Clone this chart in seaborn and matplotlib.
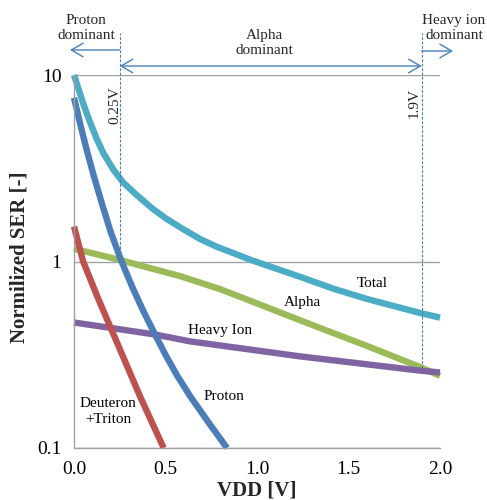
import numpy as np
import pandas as pd
import matplotlib
matplotlib.use("Agg")
import matplotlib.pyplot as plt
import matplotlib.transforms as mtransforms
import seaborn as sns

# ---------------- data ----------------
total_v = [0.0, 0.051, 0.087, 0.124, 0.16, 0.215, 0.269, 0.343, 0.432, 0.507, 0.597,
           0.689, 0.78, 0.87, 0.962, 1.089, 1.235, 1.415, 1.6, 1.89, 2.0]
total_ser = [10.0, 7.0, 5.6, 4.55, 3.82, 3.11, 2.65, 2.27, 1.91, 1.69, 1.49,
             1.32, 1.20, 1.11, 1.023, 0.927, 0.828, 0.716, 0.63, 0.53, 0.50]

proton_v = [0.0, 0.033, 0.069, 0.105, 0.151, 0.2, 0.26, 0.32, 0.377, 0.443,
            0.5, 0.563, 0.634, 0.74, 0.836]
proton_ser = [7.55, 5.5, 3.98, 2.95, 2.07, 1.445, 1.0, 0.724, 0.547, 0.406,
              0.316, 0.245, 0.19, 0.135, 0.1]

dt_v = [0.0, 0.05, 0.13, 0.197, 0.28, 0.36, 0.49]
dt_ser = [1.54, 1.0, 0.64, 0.449, 0.29, 0.19, 0.1]

alpha_v = [0.0, 0.25, 0.4, 0.58, 0.8, 1.0, 1.235, 1.415, 1.6, 1.89, 2.0]
alpha_ser = [1.17, 1.02, 0.93, 0.835, 0.71, 0.596, 0.484, 0.414, 0.353, 0.272, 0.244]

heavy_v = [0.0, 0.443, 0.634, 1.235, 1.89, 2.0]
heavy_ser = [0.471, 0.406, 0.373, 0.31, 0.26, 0.254]

x_ticks = [0.0, 0.5, 1.0, 1.5, 2.0]
x_ticklabels = ["0.0", "0.5", "1.0", "1.5", "2.0"]
y_ticks = [0.1, 1, 10]
y_ticklabels = ["0.1", "1", "10"]

thresholds = [0.25, 1.9]
threshold_labels = ["0.25V", "1.9V"]
threshold_bottom = [1.0, 0.27]

series = [
    ("Total", total_v, total_ser, "#4BACC6"),
    ("Alpha", alpha_v, alpha_ser, "#9BBB59"),
    ("Heavy Ion", heavy_v, heavy_ser, "#8064A2"),
    ("Deuteron+Triton", dt_v, dt_ser, "#C0504D"),
    ("Proton", proton_v, proton_ser, "#4A7EBB"),
]

# ---------------- style ----------------
sns.set_style("white")
plt.rcParams["font.family"] = ["Liberation Serif", "DejaVu Serif"]

W, H = 487, 500
fig = plt.figure(figsize=(W / 100, H / 100), dpi=100)
ax = fig.add_axes([74 / W, 1 - 448 / H, (440 - 74) / W, (448 - 75) / H])

for name, xv, yv, col in series:
    df = pd.DataFrame({"VDD": xv, "SER": yv})
    sns.lineplot(data=df, x="VDD", y="SER", ax=ax, color=col, lw=4.6,
                 solid_capstyle="butt", solid_joinstyle="round",
                 sort=False, estimator=None)

ax.set_yscale("log")
ax.set_xlim(0, 2.0)
ax.set_ylim(0.1, 10)
for ln in ax.get_lines():
    ln.set_clip_on(False)

ax.set_xticks(x_ticks)
ax.set_xticklabels(x_ticklabels)
ax.set_yticks(y_ticks)
ax.set_yticklabels(y_ticklabels)
ax.yaxis.set_minor_locator(matplotlib.ticker.NullLocator())
ax.tick_params(axis="both", length=0, labelsize=14, colors="black")
ax.tick_params(axis="x", pad=9)
ax.tick_params(axis="y", pad=9)

grey = "#A0A0A0"
for s in ["top", "right"]:
    ax.spines[s].set_visible(False)
for s in ["left", "bottom"]:
    ax.spines[s].set_color(grey)
    ax.spines[s].set_linewidth(1.0)
ax.yaxis.grid(True, which="major", color=grey, lw=1.0)
ax.xaxis.grid(False)
ax.set_axisbelow(True)

ax.set_xlabel("VDD [V]", fontsize=15, fontweight="bold")
ax.set_ylabel("Normilized SER [-]", fontsize=15, fontweight="bold")
ax.xaxis.label.set_verticalalignment("center")
ax.yaxis.label.set_verticalalignment("center")
ax.xaxis.set_label_coords(0.5, -(490 - 448) / 373)
ax.yaxis.set_label_coords((20 - 74) / 366, (448 - 257) / 373)

# ---------------- curve labels ----------------
lab_kw = dict(fontsize=11, ha="center", va="center", color="black")
ax.text(1.63, 0.762, "Total", **lab_kw)
ax.text(1.246, 0.603, "Alpha", **lab_kw)
ax.text(0.798, 0.426, "Heavy Ion", **lab_kw)
ax.text(0.82, 0.189, "Proton", **lab_kw)
ax.text(0.186, 0.157, "Deuteron\n+Triton", linespacing=1.25, **lab_kw)

# ---------------- threshold lines and region annotations ----------------
arrow_col = "#4A7EBB"
trans = mtransforms.blended_transform_factory(ax.transData, fig.transFigure)
top_f = 1 - 33 / H
for xv, lab, yb in zip(thresholds, threshold_labels, threshold_bottom):
    ax.plot([xv, xv], [yb, 10], color=arrow_col, lw=0.8, ls=(0, (2.5, 1.5)),
            clip_on=False)
    ax.plot([xv, xv], [1 - 75 / H, top_f], color=arrow_col, lw=0.8,
            ls=(0, (2.5, 1.5)), transform=trans, clip_on=False)

ax.text(0.224, 6.86, threshold_labels[0], rotation=90, fontsize=11,
        ha="center", va="center")
ax.text(1.858, 7.12, threshold_labels[1], rotation=90, fontsize=11,
        ha="center", va="center")

astyle = dict(arrowstyle="->,head_length=0.6,head_width=0.35", color=arrow_col,
              lw=1.0, shrinkA=0, shrinkB=0, mutation_scale=14)
dstyle = dict(arrowstyle="<->,head_length=0.6,head_width=0.35", color=arrow_col,
              lw=1.0, shrinkA=0, shrinkB=0, mutation_scale=14)
x_left_end = (70 - 74) / 183
x_right_end = (453 - 74) / 183
ax.annotate("", xy=(x_left_end, 1 - 50 / H), xytext=(thresholds[0], 1 - 50 / H),
            xycoords=trans, textcoords=trans, arrowprops=astyle)
ax.annotate("", xy=(thresholds[0], 1 - 66 / H), xytext=(thresholds[1], 1 - 66 / H),
            xycoords=trans, textcoords=trans, arrowprops=dstyle)
ax.annotate("", xy=(x_right_end, 1 - 51 / H), xytext=(thresholds[1], 1 - 51 / H),
            xycoords=trans, textcoords=trans, arrowprops=astyle)

top_kw = dict(fontsize=11, ha="center", va="center", linespacing=1.2)
fig.text(86 / W, 1 - 28 / H, "Proton\ndominant", **top_kw)
fig.text(264 / W, 1 - 43 / H, "Alpha\ndominant", **top_kw)
fig.text(454 / W, 1 - 28 / H, "Heavy ion\ndominant", **top_kw)

fig.savefig("out.png", dpi=100)
